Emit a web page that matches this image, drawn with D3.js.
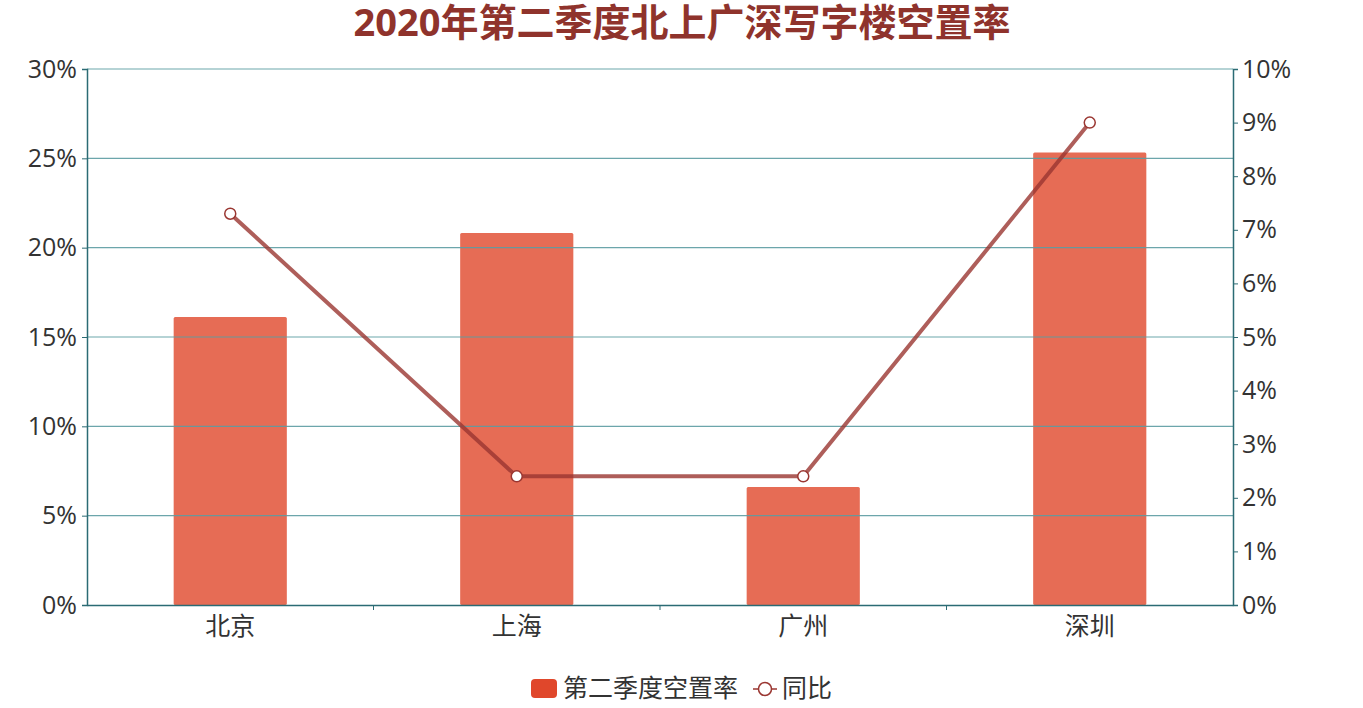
<!DOCTYPE html>
<html><head><meta charset="utf-8">
<script src="https://cdn.jsdelivr.net/npm/d3@7"></script>
<style>
body{margin:0;background:#fff;}
text{font-family:"Open Sans","Noto Sans CJK SC",sans-serif;}
</style></head>
<body><svg id="c" width="1363" height="708"></svg>
<script>
const categories = ["北京","上海","广州","深圳"];
const vacancy = [0.1612, 0.2082, 0.066, 0.2532];
const yoy = [0.073, 0.024, 0.024, 0.090];
const leftTicks = [0,0.05,0.10,0.15,0.20,0.25,0.30];
const rightTicks = [0,0.01,0.02,0.03,0.04,0.05,0.06,0.07,0.08,0.09,0.10];
const titleText = "2020年第二季度北上广深写字楼空置率";
const seriesNames = ["第二季度空置率","同比"];

const svg = d3.select("#c");
const L = 87, R = 1233, T = 69, B = 605;
const x = d3.scaleBand().domain(categories).range([L,R]).paddingInner(0).paddingOuter(0);
const yL = d3.scaleLinear().domain([0,0.30]).range([B,T]);
const yR = d3.scaleLinear().domain([0,0.10]).range([B,T]);
const axisColor = "#2b6b74", gridColor = "#5c9ca2", textColor = "#333";
const barColor = "#e0472b", lineColor = "#9a3631";

svg.append("text").attr("x",682).attr("y",36).attr("text-anchor","middle")
  .attr("font-size",38).attr("font-weight","bold").attr("fill","#8f332c").text(titleText);

// bars
const bw = x.bandwidth()*0.395;
svg.append("g").selectAll("rect").data(categories).join("rect")
  .attr("x",d=>x(d)+x.bandwidth()/2-bw/2).attr("width",bw)
  .attr("y",(d,i)=>yL(vacancy[i])).attr("height",(d,i)=>B-yL(vacancy[i]))
  .attr("rx",1.5).attr("fill",barColor).attr("fill-opacity",0.8);

// grid (drawn over bars, like reference)
svg.append("g").selectAll("line").data(leftTicks.slice(1)).join("line")
  .attr("x1",L).attr("x2",R).attr("y1",d=>yL(d)).attr("y2",d=>yL(d))
  .attr("stroke",gridColor).attr("stroke-width",1.2).attr("stroke-opacity",0.9);

// left axis
const gl = svg.append("g").attr("transform",`translate(${L},0)`)
  .call(d3.axisLeft(yL).tickValues(leftTicks).tickFormat(d=>Math.round(d*100)+"%").tickSize(5).tickPadding(5));
// right axis
const gr = svg.append("g").attr("transform",`translate(${R},0)`)
  .call(d3.axisRight(yR).tickValues(rightTicks).tickFormat(d=>Math.round(d*100)+"%").tickSize(5).tickPadding(4));
// bottom axis
const gb = svg.append("g").attr("transform",`translate(0,${B})`)
  .call(d3.axisBottom(x).tickSize(0).tickPadding(11));
[gl,gr,gb].forEach(g=>{
  g.select(".domain").attr("stroke",axisColor).attr("stroke-width",1.5);
  g.selectAll(".tick line").attr("stroke",axisColor);
  g.selectAll(".tick text").attr("fill",textColor).attr("font-size",25)
   .attr("font-family",'"Open Sans","Noto Sans CJK SC",sans-serif');
});
gb.selectAll(".tick text").attr("dy","0.75em");
// band boundary ticks on x axis
svg.append("g").selectAll("line").data(categories.slice(1)).join("line")
  .attr("x1",d=>x(d)).attr("x2",d=>x(d)).attr("y1",B).attr("y2",B+5)
  .attr("stroke",axisColor).attr("stroke-width",1);

// line
const line = d3.line().x(d=>x(d.c)+x.bandwidth()/2).y(d=>yR(d.v));
const pts = categories.map((c,i)=>({c,v:yoy[i]}));
svg.append("path").datum(pts).attr("d",line).attr("fill","none")
  .attr("stroke",lineColor).attr("stroke-width",4).attr("stroke-opacity",0.8).attr("stroke-linejoin","round");
svg.append("g").selectAll("circle").data(pts).join("circle")
  .attr("cx",d=>x(d.c)+x.bandwidth()/2).attr("cy",d=>yR(d.v)).attr("r",5.5)
  .attr("fill","#fff").attr("stroke",lineColor).attr("stroke-width",1.5);

// legend
const lg = svg.append("g");
lg.append("rect").attr("x",531).attr("y",679).attr("width",26).attr("height",19).attr("rx",4).attr("fill",barColor);
lg.append("text").attr("x",563).attr("y",697).attr("font-size",25).attr("fill",textColor).text(seriesNames[0]);
lg.append("line").attr("x1",753).attr("x2",777).attr("y1",689).attr("y2",689).attr("stroke",lineColor).attr("stroke-width",1.5);
lg.append("circle").attr("cx",765).attr("cy",689).attr("r",6.5).attr("fill","#fff").attr("stroke",lineColor).attr("stroke-width",1.5);
lg.append("text").attr("x",782).attr("y",697).attr("font-size",25).attr("fill",textColor).text(seriesNames[1]);
</script></body></html>
